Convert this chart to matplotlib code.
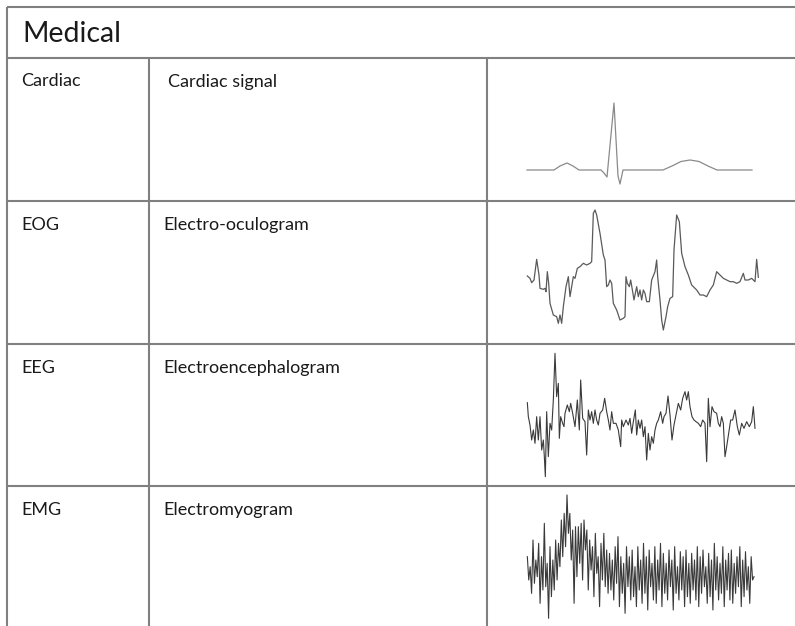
import numpy as np
import matplotlib
matplotlib.use("Agg")
import matplotlib.pyplot as plt

plt.rcParams['font.family'] = ['Lato', 'DejaVu Sans']

# ==================== Table content ====================
title = "Medical"
codes = ["Cardiac", "EOG", "EEG", "EMG"]
descriptions = ["Cardiac signal", "Electro-oculogram", "Electroencephalogram", "Electromyogram"]

# ==================== Waveforms ====================
# Cardiac: one beat, P - QRS - T
cardiac_t = [0, 27, 33, 40, 46, 52, 74, 77, 80, 87, 91, 93, 96, 136, 145, 154, 163, 172,
             181, 190, 225]
cardiac_amp = [0, 0, 4, 7, 4, 0, 0, -3, -7, 67, -6, -14, 0, 0, 4, 8.5, 10, 8.5, 4, 0, 0]

eog_t = [0, 8, 13, 20, 28, 35, 38, 48, 53, 56, 60, 64, 68, 78, 88, 93, 98, 103, 108, 116,
         123, 128, 133, 138, 143, 150, 158, 168, 178, 188, 193, 198, 203, 208, 218, 228,
         233, 238, 243, 248, 253, 258, 268, 278, 288, 293, 296, 300, 306, 310, 316, 320,
         328, 333, 338, 343, 348, 353, 358, 366, 373, 383, 388, 391, 398, 403, 408, 416,
         421, 428, 436, 440, 448, 456, 463, 473, 483, 493, 508, 518, 528, 538, 548, 558,
         568, 578, 588, 598, 608, 618, 628, 638, 648, 653, 663, 673, 683, 688, 693]
eog_amp = [172, 165, 152, 160, 222, 175, 135, 132, 135, 125, 185, 150, 90, 55, 50, 30, 55,
           30, 80, 140, 170, 110, 140, 170, 165, 195, 200, 210, 205, 210, 215, 360, 370,
           355, 300, 235, 220, 140, 145, 160, 150, 90, 70, 40, 45, 50, 170, 150, 140, 160,
           125, 100, 140, 110, 130, 100, 130, 120, 95, 95, 160, 185, 220, 170, 100, 40, 10,
           50, 80, 105, 110, 250, 355, 335, 240, 200, 175, 145, 130, 115, 115, 110, 130,
           145, 185, 175, 165, 160, 155, 155, 150, 155, 180, 160, 160, 165, 155, 222, 168]

eeg_t = [0, 3, 8, 13, 18, 23, 28, 33, 38, 43, 48, 51, 54, 58, 63, 68, 73, 78, 83, 88, 93,
         96, 100, 106, 110, 113, 120, 126, 130, 136, 143, 150, 156, 160, 166, 173, 178,
         183, 188, 193, 198, 203, 208, 213, 218, 226, 232, 238, 243, 248, 253, 258, 266,
         273, 280, 283, 288, 296, 303, 308, 313, 318, 324, 328, 333, 338, 343, 348, 353,
         358, 363, 368, 373, 378, 383, 388, 393, 400, 406, 410, 416, 422, 428, 434, 440,
         446, 453, 460, 466, 473, 478, 483, 488, 494, 500, 506, 513, 520, 526, 533, 538,
         543, 548, 554, 560, 568, 573, 578, 583, 588, 593, 598, 604, 610, 616, 623, 630,
         636, 643, 650, 658, 666, 673, 678, 683]
eeg_amp = [212, 170, 145, 100, 130, 90, 170, 100, 170, 70, 100, 50, -10, 185, 50, 150, 130,
           220, 360, 230, 270, 105, 170, 150, 140, 180, 205, 185, 210, 180, 140, 220, 130,
           280, 165, 155, 55, 190, 160, 185, 150, 190, 160, 145, 180, 190, 225, 185, 160,
           130, 185, 150, 150, 130, 80, 160, 140, 160, 145, 165, 120, 155, 190, 115, 160,
           135, 160, 110, 140, 40, 120, 70, 110, 90, 130, 150, 160, 185, 150, 170, 180,
           232, 175, 100, 145, 175, 210, 190, 225, 245, 220, 245, 200, 170, 160, 155, 150,
           140, 160, 150, 35, 225, 140, 200, 185, 180, 150, 140, 170, 150, 50, 80, 120,
           160, 160, 190, 140, 115, 150, 135, 155, 140, 155, 200, 135]

# EMG: evenly sampled burst
emg_amp = [170, 100, 140, 60, 220, 90, 160, 110, 210, 30, 170, 70, 270, 80, 150, -15, 200,
           50, 160, 70,
           220, 100, 210, 140, 280, 170, 300, 200, 355, 240, 300, 160, 250, 30, 260, 110,
           260, 150, 270, 100, 280, 190, 250, 70, 220, 130, 200, 50, 240, 120, 170, 20,
           210, 100, 240, 80, 190, 60,
           180, 70, 160, 40, 200, 90, 230, 20, 170, 60, 150, 0, 200, 80, 170, 40, 190, 50,
           140, 20, 200, 70, 160, 30, 210, 60, 170, 10, 190, 80, 150, 40, 200, 30, 160, 70,
           210, 20, 180, 60, 150, 40, 190, 80, 160, 10, 200, 60, 140, 40, 185, 70, 170, 20,
           190, 50, 150, 30, 180, 70, 160, 40, 200, 20, 170, 60, 190, 80, 140, 30, 180, 50,
           160, 10, 210, 70, 170, 40, 150, 60, 200, 20, 160, 70, 180, 40, 190, 30, 150, 60,
           170, 80, 200, 20, 160, 50, 185, 70, 140, 30, 170, 100, 110]

# ==================== Figure ====================
W, H = 795, 626
fig = plt.figure(figsize=(W / 100, H / 100), dpi=100)
ax = fig.add_axes([0, 0, 1, 1])
ax.set_xlim(0, W)
ax.set_ylim(H, 0)
ax.axis('off')

line_kw = dict(color='#808080', lw=1.5, solid_capstyle='butt')
row_tops = [57.5, 201, 344, 486]
x_left, x_col1, x_col2 = 7, 148.5, 487

ax.plot([x_left, W], [7, 7], **line_kw)
for y in row_tops:
    ax.plot([x_left, W], [y, y], **line_kw)
ax.plot([x_left, x_left], [7, H], **line_kw)
ax.plot([x_col1, x_col1], [row_tops[0], H], **line_kw)
ax.plot([x_col2, x_col2], [row_tops[0], H], **line_kw)

txt_color = '#1a1a1a'
ax.text(22.5, 41.5, title, fontsize=20.5, color=txt_color, va='baseline', ha='left')
for i, (code, desc) in enumerate(zip(codes, descriptions)):
    yb = row_tops[i] + 29
    ax.text(21.5, yb, code, fontsize=13, color=txt_color, va='baseline', ha='left')
    ax.text(168 if i == 0 else 163, yb, desc, fontsize=13, color=txt_color,
            va='baseline', ha='left')


def cell_axes(left, top, width, height, xlim, ylim):
    a = fig.add_axes([left / W, 1 - (top + height) / H, width / W, height / H])
    a.set_xlim(*xlim)
    a.set_ylim(*ylim)
    a.axis('off')
    return a


# Cardiac (pixel-scaled units)
a = cell_axes(490, 90, 300, 110, (-37, 263), (-30, 80))
a.plot(cardiac_t, cardiac_amp, color='#8a8a8a', lw=0.9, clip_on=False)

# EOG, EEG, EMG (units of 1/3 pixel)
a = cell_axes(490, 200, 300, 140, (-112, 788), (-20, 400))
a.plot(eog_t, eog_amp, color='#5a5a5a', lw=0.9, clip_on=False)

a = cell_axes(490, 340, 300, 140, (-112, 788), (-20, 400))
a.plot(eeg_t, eeg_amp, color='#3a3a3a', lw=0.8, clip_on=False)

a = cell_axes(490, 480, 300, 146, (-112, 788), (-38, 400))
emg_t = np.linspace(0, 680, len(emg_amp))
a.plot(emg_t, emg_amp, color='#3a3a3a', lw=0.8, clip_on=False)

fig.savefig('out.png', dpi=100)
